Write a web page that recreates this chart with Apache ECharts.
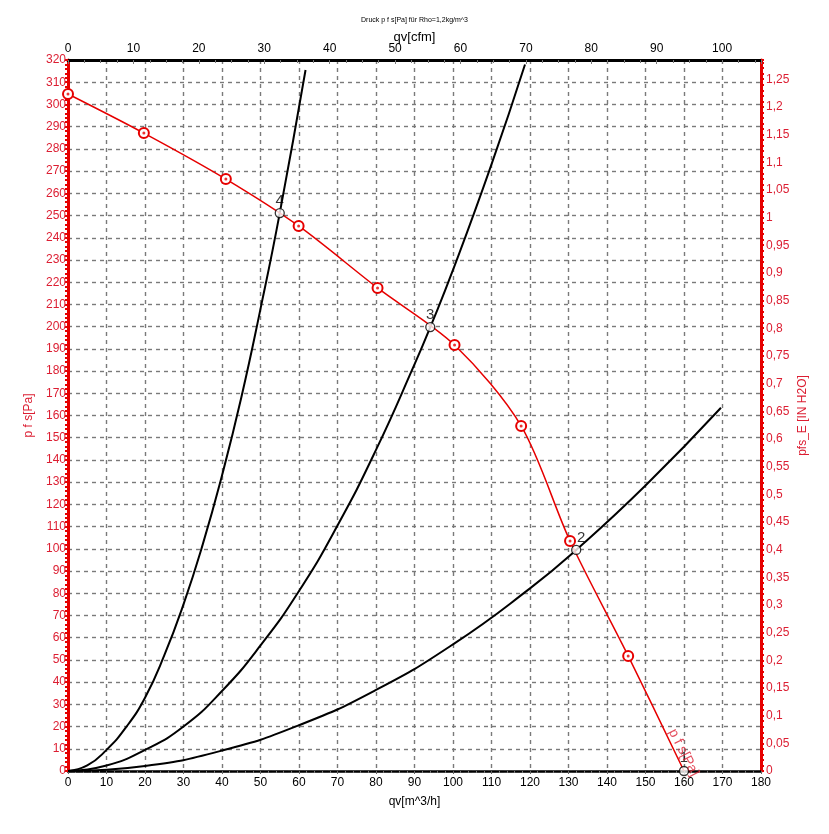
<!DOCTYPE html>
<html>
<head>
<meta charset="utf-8">
<script src="https://cdn.jsdelivr.net/npm/echarts@6/dist/echarts.min.js"></script>
<style>
html,body{margin:0;padding:0;background:#fff;}
#chart{width:829px;height:834px;}
</style>
</head>
<body>
<div id="chart"></div>
<script>
// Fan curve p f s [Pa] vs qv [m^3/h]
const fanQ = [0, 19.7, 41.0, 59.9, 80.4, 100.4, 117.7, 130.4, 145.5, 160];
const fanP = [304.7, 287.1, 266.4, 245.3, 217.4, 191.7, 155.3, 103.5, 51.8, 0];

// System curves
const sys4Q = [0, 5, 10, 15, 20, 25, 30, 35, 40, 45, 50, 55, 61.7];
const sys4P = [0, 2.5, 9.5, 19.5, 33, 52, 75, 102, 133, 168, 208, 251.1, 315.5];
const sys3Q = [0, 10, 20, 30, 40, 50, 60, 70, 80, 90, 94.1, 100, 110, 118.7];
const sys3P = [0, 2.5, 9.5, 20, 36, 56.5, 81, 110.5, 144.5, 183, 199.8, 225.5, 273, 318];
const sys2Q = [0, 20, 40, 60, 80, 100, 120, 132, 150, 169.6];
const sys2P = [0, 2.3, 9.2, 20.6, 36.5, 57, 82.2, 99.5, 128.5, 163.5];

// Operating points
const opQ = [160, 132.0, 94.1, 55.0];
const opP = [0, 99.5, 199.8, 251.1];
const opLabels = ['1', '2', '3', '4'];

// Axis settings / tick labels
const qvMin = 0, qvMax = 180, qvStep = 10;
const pMin = 0, pMax = 320, pStep = 10;
const cfmPerM3h = 1 / 1.699;
const inH2OPerPa = 1 / 249.089;
const inStep = 0.05;

const titleText = 'Druck p f s[Pa] für Rho=1,2kg/m^3';
const curveLabel = 'p f s[Pa]';
const curveLabelQ = 159.9, curveLabelP = 8.3;

const RED = '#e60000';
const RED_TXT = '#dc1e32';
const FONT = 'Liberation Sans, Arial, sans-serif';

const chart = echarts.init(document.getElementById('chart'), null, {renderer: 'canvas'});

function pairs(xs, ys) { return xs.map((x, i) => [x, ys[i]]); }

const fanData = pairs(fanQ, fanP).map((d, i) => i === fanQ.length - 1 ? {value: d, symbol: 'none'} : d);

const GRID_LINE = {show: true, lineStyle: {color: '#7a7a7a', width: 1.4, type: [4, 4]}};

const option = {
  backgroundColor: '#fff',
  animation: false,
  title: {
    text: titleText, left: 'center', top: 12,
    textStyle: {fontSize: 7, fontWeight: 'normal', color: '#000', fontFamily: FONT}
  },
  grid: {left: 68, right: 68, top: 60, bottom: 63, containLabel: false, outerBoundsMode: 'none'},
  xAxis: [
    {
      type: 'value', position: 'bottom', min: qvMin, max: qvMax, interval: qvStep,
      name: 'qv[m^3/h]', nameLocation: 'middle', nameGap: 25, nameMoveOverlap: false,
      nameTextStyle: {color: '#000', fontSize: 12, fontFamily: FONT},
      axisLine: {show: true, onZero: false, lineStyle: {color: '#000', width: 2.5}},
      axisTick: {show: true, length: 3, lineStyle: {color: '#666'}},
      minorTick: {show: true, splitNumber: 5, length: 2, lineStyle: {color: '#777'}},
      axisLabel: {color: '#000', fontSize: 12, margin: 6, fontFamily: FONT},
      splitLine: GRID_LINE,
      minorSplitLine: {show: false}
    },
    {
      type: 'value', position: 'top', min: qvMin * cfmPerM3h, max: qvMax * cfmPerM3h, interval: 10,
      name: 'qv[cfm]', nameLocation: 'middle', nameGap: 16, nameMoveOverlap: false,
      nameTextStyle: {color: '#000', fontSize: 13, fontFamily: FONT},
      axisLine: {show: true, onZero: false, lineStyle: {color: '#000', width: 3}},
      axisTick: {show: true, inside: true, length: 4, lineStyle: {color: '#777'}},
      minorTick: {show: true, splitNumber: 4, length: 3, lineStyle: {color: '#777'}},
      axisLabel: {color: '#000', fontSize: 12, margin: 5, showMaxLabel: false, fontFamily: FONT},
      splitLine: {show: false},
      minorSplitLine: {show: false}
    }
  ],
  yAxis: [
    {
      type: 'value', position: 'left', min: pMin, max: pMax, interval: pStep,
      name: 'p f s[Pa]', nameLocation: 'middle', nameGap: 33, nameMoveOverlap: false,
      nameTextStyle: {color: RED_TXT, fontSize: 12, fontFamily: FONT},
      axisLine: {show: true, onZero: false, lineStyle: {color: RED, width: 3}},
      axisTick: {show: true, length: 3, lineStyle: {color: RED, width: 2}},
      minorTick: {show: true, splitNumber: 5, length: 3, lineStyle: {color: RED, width: 2}},
      axisLabel: {color: RED_TXT, fontSize: 12, margin: 2, fontFamily: FONT},
      splitLine: GRID_LINE,
      minorSplitLine: {show: false}
    },
    {
      type: 'value', position: 'right', min: pMin * inH2OPerPa, max: pMax * inH2OPerPa, interval: inStep,
      name: 'pfs_E [IN H2O]', nameLocation: 'middle', nameGap: 36, nameMoveOverlap: false,
      nameTextStyle: {color: RED_TXT, fontSize: 12, fontFamily: FONT},
      axisLine: {show: true, onZero: false, lineStyle: {color: RED, width: 3}},
      axisTick: {show: true, length: 3, lineStyle: {color: RED, width: 2}},
      minorTick: {show: true, splitNumber: 5, length: 3, lineStyle: {color: RED, width: 2}},
      axisLabel: {
        color: RED_TXT, fontSize: 12, margin: 5, showMaxLabel: false, fontFamily: FONT,
        formatter: v => String(Math.round(v * 100) / 100).replace('.', ',')
      },
      splitLine: {show: false},
      minorSplitLine: {show: false}
    }
  ],
  series: [
    {
      name: 'sys4', type: 'line', xAxisIndex: 0, yAxisIndex: 0, smooth: true, symbol: 'none',
      lineStyle: {color: '#000', width: 2}, data: pairs(sys4Q, sys4P), z: 3
    },
    {
      name: 'sys3', type: 'line', xAxisIndex: 0, yAxisIndex: 0, smooth: true, symbol: 'none',
      lineStyle: {color: '#000', width: 2}, data: pairs(sys3Q, sys3P), z: 3
    },
    {
      name: 'sys2', type: 'line', xAxisIndex: 0, yAxisIndex: 0, smooth: true, symbol: 'none',
      lineStyle: {color: '#000', width: 2}, data: pairs(sys2Q, sys2P), z: 3
    },
    {
      name: 'fan', type: 'line', xAxisIndex: 0, yAxisIndex: 0, smooth: 0.3,
      symbol: 'emptyCircle', symbolSize: 10, showAllSymbol: true,
      lineStyle: {color: RED, width: 1.5},
      itemStyle: {color: RED, borderColor: RED, borderWidth: 1.5},
      data: fanData, z: 4
    },
    {
      name: 'fanDots', type: 'scatter', xAxisIndex: 0, yAxisIndex: 0,
      symbol: 'circle', symbolSize: 3, itemStyle: {color: RED},
      data: pairs(fanQ.slice(0, -1), fanP.slice(0, -1)), z: 5
    },
    {
      name: 'operating', type: 'scatter', xAxisIndex: 0, yAxisIndex: 0,
      symbol: 'circle', symbolSize: 9,
      itemStyle: {color: '#fff', borderColor: '#000', borderWidth: 1.3},
      label: {
        show: true, color: '#000', fontSize: 15, fontFamily: FONT,
        formatter: p => opLabels[p.dataIndex], position: 'top', distance: 0
      },
      data: opQ.map((q, i) => {
        const d = {value: [q, opP[i]]};
        if (opLabels[i] === '2') d.label = {position: 'top', offset: [5, 1]};
        return d;
      }),
      z: 6
    },
    {
      name: 'curveName', type: 'scatter', xAxisIndex: 0, yAxisIndex: 0,
      symbol: 'circle', symbolSize: 1, itemStyle: {color: 'rgba(0,0,0,0)'},
      label: {
        show: true, position: 'inside', rotate: -63, color: RED_TXT, fontSize: 14, fontFamily: FONT,
        formatter: () => curveLabel
      },
      data: [[curveLabelQ, curveLabelP]], z: 7
    }
  ]
};
chart.setOption(option);
</script>
</body>
</html>
